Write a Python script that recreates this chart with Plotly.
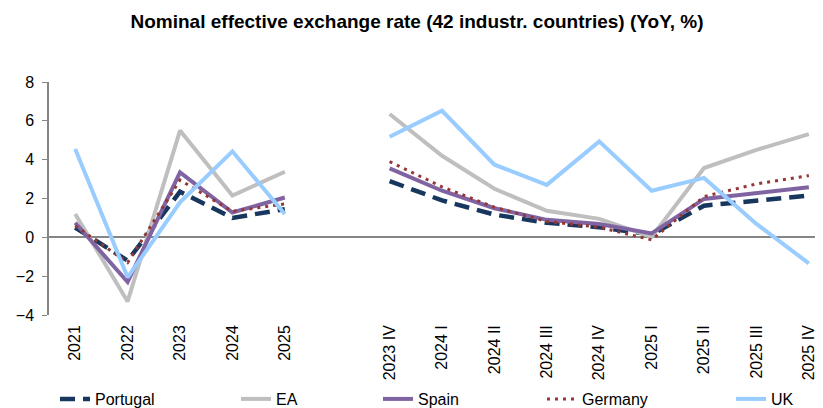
import plotly.graph_objects as go

categories = ["2021", "2022", "2023", "2024", "2025", " ",
              "2023 IV", "2024 I", "2024 II", "2024 III", "2024 IV",
              "2025 I", "2025 II", "2025 III", "2025 IV"]

portugal = [0.5, -1.2, 2.35, 1.0, 1.45, None,
            2.9, 1.9, 1.17, 0.75, 0.52, 0.15, 1.63, 1.89, 2.15]
ea = [1.2, -3.3, 5.5, 2.15, 3.38, None,
      6.35, 4.2, 2.5, 1.37, 0.95, 0.02, 3.57, 4.5, 5.32]
spain = [0.75, -2.3, 3.35, 1.28, 2.05, None,
         3.55, 2.4, 1.5, 0.9, 0.69, 0.2, 1.98, 2.27, 2.58]
germany = [0.6, -1.3, 2.95, 1.34, 1.72, None,
           3.9, 2.6, 1.55, 0.82, 0.52, -0.13, 2.1, 2.75, 3.18]
uk = [4.55, -2.06, 1.8, 4.43, 1.2, None,
      5.18, 6.52, 3.74, 2.7, 4.94, 2.4, 3.06, 0.69, -1.34]

y_ticks = [-4, -2, 0, 2, 4, 6, 8]

series = [
    ("Portugal", portugal, dict(color="#17375E", width=4.5, dash="15px,8px")),
    ("EA", ea, dict(color="#BFBFBF", width=4)),
    ("Spain", spain, dict(color="#8064A2", width=4)),
    ("Germany", germany, dict(color="#953735", width=3, dash="3px,5px")),
    ("UK", uk, dict(color="#99CCFF", width=4)),
]

# The page body has an 8px default margin, so the figure is drawn 8px in.
OFF = 8
W, H = 823 - OFF, 408 - OFF
legend_text_x = [97, 278, 420, 584, 773]

fig = go.Figure()
legend_layout = {}
for i, (name, vals, line) in enumerate(series):
    lname = "legend" if i == 0 else f"legend{i + 1}"
    fig.add_trace(go.Scatter(x=categories, y=vals, mode="lines", name=name,
                             line=line, connectgaps=False, legend=lname))
    legend_layout[lname] = dict(
        orientation="h", xref="container", yref="container",
        x=(legend_text_x[i] - OFF - 42) / W, xanchor="left",
        y=(H - (399 - OFF)) / H, yanchor="middle",
        font=dict(size=16), bgcolor="rgba(0,0,0,0)")

fig.update_layout(
    width=W, height=H,
    margin=dict(l=49 - OFF, r=0, t=82 - OFF, b=408 - 315, autoexpand=False),
    paper_bgcolor="white", plot_bgcolor="white",
    font=dict(family="Liberation Sans, Arial, sans-serif", size=16, color="black"),
    title=dict(text="<b>Nominal effective exchange rate (42 industr. countries) (YoY, %)</b>",
               x=(417 - OFF) / W, xanchor="center", yref="container",
               y=1 - (21 - OFF) / H, yanchor="middle",
               font=dict(size=19, color="black")),
    showlegend=True,
    **legend_layout,
)
fig.update_xaxes(type="category", categoryorder="array", categoryarray=categories,
                 range=[-0.5, 14.27], tickangle=-90, showline=False, showgrid=False,
                 zeroline=False, ticks="", tickfont=dict(size=16), automargin=False,
                 ticklabelstandoff=6)
fig.update_yaxes(range=[-4, 8], tickvals=y_ticks, showgrid=False,
                 showline=True, linecolor="#868686", linewidth=1.5,
                 ticks="outside", ticklen=5, tickcolor="#868686",
                 zeroline=True, zerolinecolor="#868686", zerolinewidth=1.5,
                 tickfont=dict(size=16), automargin=False, ticklabelstandoff=5)

fig.write_html("out.html")
